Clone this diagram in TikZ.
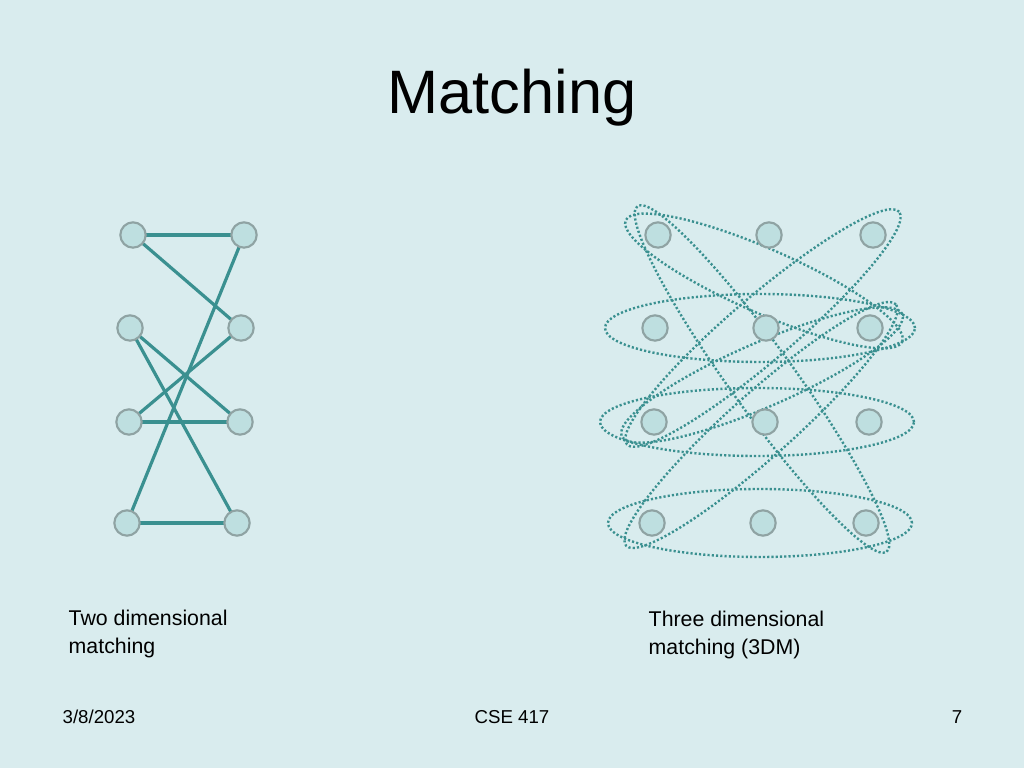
\documentclass[tikz,border=0pt]{standalone}
\usepackage{fontspec}
\setmainfont{Liberation Sans}
\usetikzlibrary{positioning}
\definecolor{bgc}{HTML}{D9ECEE}
\definecolor{edgec}{HTML}{3A9090}
\definecolor{vfill}{HTML}{BEDFE0}
\definecolor{vline}{HTML}{8FA3A3}
\begin{document}
\begin{tikzpicture}[
  x=0.75pt, y=0.75pt,
  vtx/.style = {circle,draw=vline,fill=vfill,line width=1.6pt,minimum size=19pt,inner sep=0pt},
  pair/.style = {draw=edgec,line width=2.4pt},
  triple/.style = {draw=edgec,line width=1.8pt,dash pattern=on 1.6pt off 1.6pt},
  lbl/.style = {anchor=north west,align=left,font=\fontsize{16}{21}\selectfont}
  ]
	\fill[bgc] (0,0) rectangle (1024,768);
	\node (title) at (512,670) {\fontsize{46}{52}\selectfont Matching};

	% two dimensional
	\foreach \n/\x/\y in {a1/133/235,a2/130/328,a3/129/422,a4/127/523,
	                      b1/244/235,b2/241/328,b3/240/422,b4/237/523}
	  \coordinate (\n) at (\x,768-\y);
	\draw[pair] (a1) -- (b1);
	\draw[pair] (a1) -- (b2);
	\draw[pair] (b1) -- (a4);
	\draw[pair] (a2) -- (b3);
	\draw[pair] (a2) -- (b4);
	\draw[pair] (b2) -- (a3);
	\draw[pair] (a3) -- (b3);
	\draw[pair] (a4) -- (b4);
	\foreach \n in {a1,a2,a3,a4,b1,b2,b3,b4}
	  \node[vtx] at (\n) {};

	% three dimensional
	\foreach \c/\r/\w/\h/\a in {764/281/151/32/-23.7, 762/379/213/32/-54.2,
	    763/328/179/32/40.5, 761/425/181/32/41.8, 762/375/153/32/23.5,
	    760/328/155/34/0, 757/422/157/34/0, 760/523/152/34/0}
	  \draw[triple,rotate around={\a:(\c,768-\r)}] (\c,768-\r) ellipse ({\w} and {\h});
	\foreach \n/\x/\y in {p1/658/235,p2/769/235,p3/873/235,
	                      q1/655/328,q2/766/328,q3/870/328,
	                      r1/654/422,r2/765/422,r3/869/422,
	                      s1/652/523,s2/763/523,s3/866/523}
	  \node[vtx] (\n) at (\x,768-\y) {};

	\node[lbl] (two) at (64,163) {Two dimensional\\matching};
	\node[lbl] (three) at (644,162) {Three dimensional\\matching (3DM)};
	\node[font=\fontsize{14}{16}\selectfont] (date) at (99,51) {3/8/2023};
	\node[font=\fontsize{14}{16}\selectfont] (course) at (512,51) {CSE 417};
	\node[font=\fontsize{14}{16}\selectfont] (page) at (957,51) {7};
\end{tikzpicture}
\end{document}
